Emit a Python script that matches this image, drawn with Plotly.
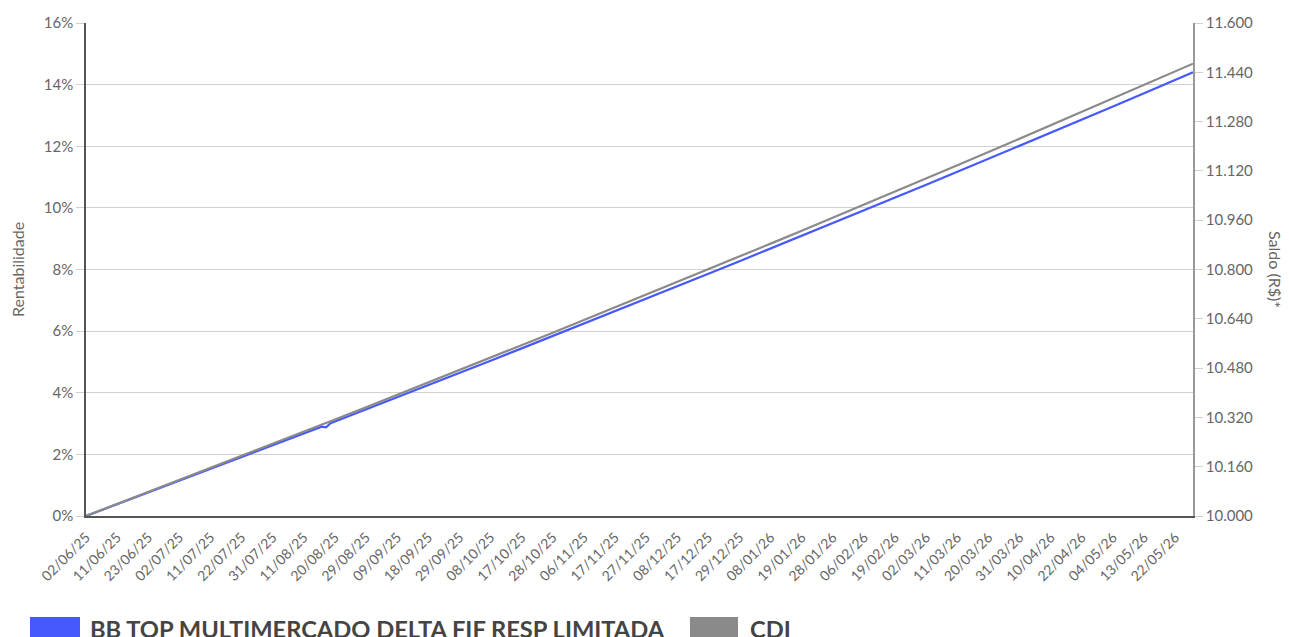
import plotly.graph_objects as go

# ---- data (business-day index from 02/06/25, cumulative return in %) ----
tick_labels = ["02/06/25", "11/06/25", "23/06/25", "02/07/25", "11/07/25", "22/07/25",
               "31/07/25", "11/08/25", "20/08/25", "29/08/25", "09/09/25", "18/09/25",
               "29/09/25", "08/10/25", "17/10/25", "28/10/25", "06/11/25", "17/11/25",
               "27/11/25", "08/12/25", "17/12/25", "29/12/25", "08/01/26", "19/01/26",
               "28/01/26", "06/02/26", "19/02/26", "02/03/26", "11/03/26", "20/03/26",
               "31/03/26", "10/04/26", "22/04/26", "04/05/26", "13/05/26", "22/05/26"]
tick_index = [0, 7, 14, 21, 28, 35, 42, 49, 56, 63, 70, 77, 84, 91, 98, 105, 112, 119,
              126, 133, 140, 147, 154, 161, 168, 175, 182, 189, 196, 203, 210, 217, 224,
              231, 238, 245]

cdi_index = tick_index + [249]
cdi_values = [0, 0.39, 0.77, 1.16, 1.55, 1.94, 2.34, 2.73, 3.13, 3.53, 3.93, 4.33, 4.73,
              5.13, 5.54, 5.95, 6.36, 6.77, 7.18, 7.59, 8.01, 8.42, 8.84, 9.26, 9.68,
              10.11, 10.53, 10.96, 11.38, 11.81, 12.25, 12.68, 13.11, 13.55, 13.99,
              14.43, 14.68]

fund_index = [0, 7, 14, 21, 28, 35, 42, 49, 53, 54, 55, 56, 63, 70, 77, 84, 91, 98, 105,
              112, 119, 126, 133, 140, 147, 154, 161, 168, 175, 182, 189, 196, 203, 210,
              217, 224, 231, 238, 245, 249]
fund_values = [0, 0.38, 0.76, 1.14, 1.52, 1.91, 2.30, 2.68, 2.90, 2.88, 3.01, 3.07, 3.46,
               3.86, 4.25, 4.64, 5.04, 5.44, 5.84, 6.24, 6.64, 7.04, 7.45, 7.86, 8.27,
               8.68, 9.09, 9.50, 9.92, 10.33, 10.75, 11.17, 11.59, 12.01, 12.44, 12.86,
               13.29, 13.72, 14.15, 14.40]

balance_range = [10000, 11600]
balance_step = 160

fund_name = "BB TOP MULTIMERCADO DELTA FIF RESP LIMITADA"
cdi_name = "CDI"
fund_color = "#4659FF"
cdi_color = "#8A8A8A"

FONT = "Lato"
TXT = "#666666"

fig = go.Figure()
fig.add_trace(go.Scatter(x=fund_index, y=fund_values, mode="lines", name=fund_name,
                         line=dict(color=fund_color, width=2.2), showlegend=False,
                         hoverinfo="skip"))
fig.add_trace(go.Scatter(x=cdi_index, y=cdi_values, mode="lines", name=cdi_name,
                         line=dict(color=cdi_color, width=2.2), showlegend=False,
                         hoverinfo="skip"))
# empty trace to activate the secondary (balance) axis
fig.add_trace(go.Scatter(x=[None], y=[None], yaxis="y2", mode="lines",
                         showlegend=False, hoverinfo="skip"))

# page has an 8px body margin: figure coordinates = page coordinates - 8
OFF = 8
W, H = 1289 - OFF, 637 - OFF
L, T = 86 - OFF, 23 - OFF
R = W - (1193 - OFF)
B = H - (516 - OFF)
pw, ph = W - L - R, H - T - B

fig.update_layout(
    width=W, height=H,
    margin=dict(l=L, r=R, t=T, b=B, pad=0),
    paper_bgcolor="white", plot_bgcolor="white",
    separators=",.",
    font=dict(family=FONT, size=14, color=TXT),
    xaxis=dict(range=[0, max(cdi_index)], tickmode="array", tickvals=tick_index,
               ticktext=tick_labels, tickangle=-45, showgrid=False, zeroline=False,
               showline=True, linecolor="#555555", linewidth=1.5, ticks="outside",
               ticklen=6, tickcolor="rgba(0,0,0,0)",
               automargin=False, tickfont=dict(size=14, color=TXT)),
    yaxis=dict(range=[0, 16], dtick=2, ticksuffix="%", showgrid=True,
               gridcolor="#D0D0D0", gridwidth=1, zeroline=False, showline=True,
               linecolor="#555555", linewidth=1.5, ticks="outside", ticklen=8,
               tickcolor="#D0D0D0", automargin=False, tickfont=dict(size=15, color=TXT)),
    yaxis2=dict(range=balance_range, tick0=balance_range[0], dtick=balance_step,
                tickformat=",d", overlaying="y", side="right", showgrid=False,
                zeroline=False, showline=True, linecolor="#999999", linewidth=1.5,
                ticks="outside", ticklen=8, tickcolor="#D0D0D0", automargin=False,
                tickfont=dict(size=15, color=TXT)),
)

def px_x(v):
    return (v - OFF - L) / pw

def px_y(v):
    return (T + ph - (v - OFF)) / ph

# axis titles
fig.add_annotation(text="Rentabilidade", xref="paper", yref="paper",
                   x=px_x(17), y=px_y(270), textangle=-90, showarrow=False,
                   font=dict(size=16, color=TXT), xanchor="center", yanchor="middle")
fig.add_annotation(text="Saldo (R$)*", xref="paper", yref="paper",
                   x=px_x(1276), y=px_y(269), textangle=90, showarrow=False,
                   font=dict(size=16, color=TXT), xanchor="center", yanchor="middle")

# legend drawn at bottom
legend_items = [(fund_name, fund_color, 30, 80, 90), (cdi_name, cdi_color, 690, 738, 750)]
for name, col, x0, x1, tx in legend_items:
    fig.add_shape(type="rect", xref="paper", yref="paper",
                  x0=px_x(x0), x1=px_x(x1), y0=px_y(640), y1=px_y(617),
                  fillcolor=col, line=dict(width=0))
    fig.add_annotation(text="<b>" + name + "</b>", xref="paper", yref="paper",
                       x=px_x(tx - 2), y=px_y(613), xanchor="left", yanchor="top",
                       showarrow=False, font=dict(size=23.7, color="#444444", family=FONT))

fig.write_html("out.html")
